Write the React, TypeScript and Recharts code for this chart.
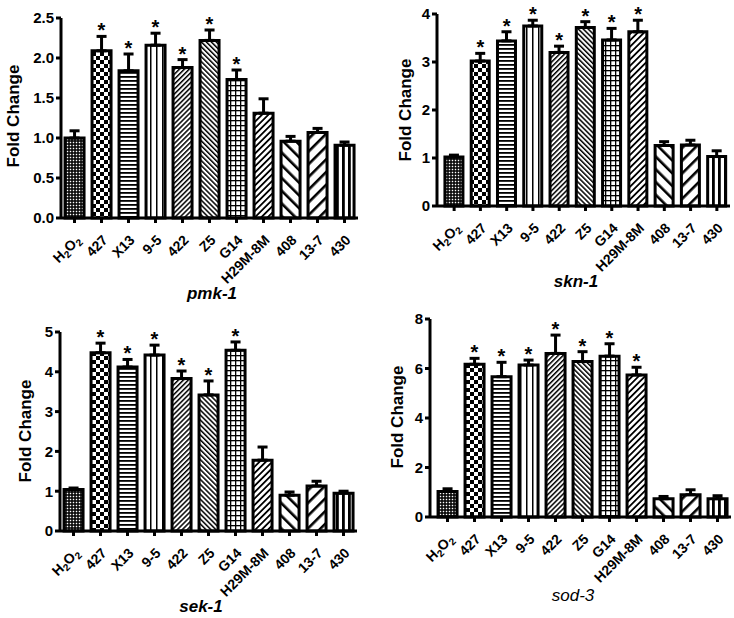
import React from "react";
import {
  ComposedChart,
  Bar,
  Cell,
  ErrorBar,
  Scatter,
  XAxis,
  YAxis,
} from "recharts";

const strains = ["H2O2", "427", "X13", "9-5", "422", "Z5", "G14", "H29M-8M", "408", "13-7", "430"];

const pmk1Mean = [1.0, 2.09, 1.84, 2.16, 1.88, 2.22, 1.73, 1.31, 0.96, 1.07, 0.91];
const pmk1Err = [0.09, 0.18, 0.21, 0.15, 0.1, 0.13, 0.12, 0.18, 0.06, 0.05, 0.04];
const pmk1Sig = ["427", "X13", "9-5", "422", "Z5", "G14"];
const pmk1Ticks = [0, 0.5, 1, 1.5, 2, 2.5];

const skn1Mean = [1.02, 3.02, 3.44, 3.75, 3.2, 3.72, 3.46, 3.63, 1.26, 1.27, 1.03];
const skn1Err = [0.04, 0.16, 0.19, 0.12, 0.13, 0.12, 0.24, 0.24, 0.08, 0.1, 0.12];
const skn1Sig = ["427", "X13", "9-5", "422", "Z5", "G14", "H29M-8M"];
const skn1Ticks = [0, 1, 2, 3, 4];

const sek1Mean = [1.04, 4.48, 4.12, 4.42, 3.83, 3.42, 4.54, 1.78, 0.9, 1.13, 0.95];
const sek1Err = [0.04, 0.24, 0.19, 0.25, 0.19, 0.35, 0.21, 0.33, 0.08, 0.12, 0.05];
const sek1Sig = ["427", "X13", "9-5", "422", "Z5", "G14"];
const sek1Ticks = [0, 1, 2, 3, 4, 5];

const sod3Mean = [1.03, 6.17, 5.67, 6.14, 6.61, 6.28, 6.5, 5.74, 0.74, 0.9, 0.74];
const sod3Err = [0.11, 0.24, 0.58, 0.2, 0.74, 0.4, 0.5, 0.31, 0.09, 0.2, 0.12];
const sod3Sig = ["427", "X13", "9-5", "422", "Z5", "G14", "H29M-8M"];
const sod3Ticks = [0, 2, 4, 6, 8];

const FONT = "'Liberation Sans', Arial, Helvetica, sans-serif";

function Patterns({ id }: { id: string }) {
  const lines = (name: string, w: number, lw: number, rot: number) => (
    <pattern
      id={`${id}-${name}`}
      width={w}
      height={w}
      patternUnits="userSpaceOnUse"
      patternTransform={`rotate(${rot})`}
    >
      <rect width={w} height={w} fill="#fff" />
      <rect width={lw} height={w} fill="#000" />
    </pattern>
  );
  return (
    <defs>
      <pattern id={`${id}-p0`} width={3} height={3} patternUnits="userSpaceOnUse">
        <rect width={3} height={3} fill="#000" />
        <rect x={0.75} y={0.75} width={1.5} height={1.5} fill="#fff" />
      </pattern>
      <pattern id={`${id}-p1`} width={8} height={8} patternUnits="userSpaceOnUse">
        <rect width={8} height={8} fill="#fff" />
        <rect width={4} height={4} fill="#000" />
        <rect x={4} y={4} width={4} height={4} fill="#000" />
      </pattern>
      <pattern id={`${id}-p2`} width={4} height={4} patternUnits="userSpaceOnUse">
        <rect width={4} height={4} fill="#fff" />
        <rect width={4} height={1.8} fill="#000" />
      </pattern>
      {lines("p3", 6, 1.5, 0)}
      {lines("p4", 3.5, 1.5, 45)}
      {lines("p5", 3.5, 1.5, -45)}
      <pattern id={`${id}-p6`} width={5} height={5} patternUnits="userSpaceOnUse">
        <rect width={5} height={5} fill="#fff" />
        <rect width={5} height={1.3} fill="#000" />
        <rect width={1.3} height={5} fill="#000" />
      </pattern>
      {lines("p7", 4.5, 1.8, 45)}
      {lines("p8", 9, 2.6, -45)}
      {lines("p9", 9, 2.6, 45)}
      {lines("p10", 6, 2.8, 0)}
    </defs>
  );
}

function StrainTick(props: any) {
  const { x, y, payload } = props;
  const v = payload.value;
  return (
    <g transform={`translate(${x + 7},${y + 16})`}>
      <text
        transform="rotate(-45)"
        textAnchor="end"
        fontSize={14}
        fontWeight="bold"
        fontFamily={FONT}
        fill="#000"
      >
        {v === "H2O2" ? (
          <>
            H<tspan fontSize={10} dy={3}>2</tspan>
            <tspan dy={-3}>O</tspan>
            <tspan fontSize={10} dy={3}>2</tspan>
          </>
        ) : (
          v
        )}
      </text>
    </g>
  );
}

function Star(props: any) {
  const { cx, cy, payload } = props;
  if (!payload || !payload.sig) return <g />;
  return (
    <text x={cx} y={cy + 1} textAnchor="middle" fontSize={20} fontWeight="bold" fontFamily={FONT} fill="#000">
      *
    </text>
  );
}

type PanelProps = {
  id: string;
  gene: string;
  mean: number[];
  err: number[];
  sig: string[];
  ticks: number[];
  decimals: number;
  left: number;
  top: number;
  width: number;
  height: number;
  margin: { top: number; right: number; left: number; bottom: number };
  yWidth: number;
  xHeight: number;
  padLeft: number;
  titleX: number;
  titleY: number;
  titleWeight: string;
  labelX: number;
  labelY: number;
};

function Panel(p: PanelProps) {
  const data = strains.map((s, i) => ({
    strain: s,
    mean: p.mean[i],
    err: [0, p.err[i]],
    top: p.mean[i] + p.err[i],
    sig: p.sig.includes(s),
  }));
  const axisStyle = { stroke: "#000", strokeWidth: 3 };
  return (
    <>
      <div style={{ position: "absolute", left: p.left, top: p.top }}>
        <ComposedChart width={p.width} height={p.height} data={data} margin={p.margin} barCategoryGap="15%">
          <Patterns id={p.id} />
          <XAxis
            dataKey="strain"
            interval={0}
            height={p.xHeight}
            padding={{ left: p.padLeft, right: 0 }}
            axisLine={axisStyle}
            tickLine={axisStyle}
            tickSize={5}
            tick={<StrainTick />}
          />
          <YAxis
            type="number"
            domain={[0, p.ticks[p.ticks.length - 1]]}
            ticks={p.ticks}
            interval={0}
            width={p.yWidth}
            axisLine={axisStyle}
            tickLine={axisStyle}
            tickSize={5}
            tickMargin={2}
            tickFormatter={(v: number) => v.toFixed(p.decimals)}
            tick={{ fontSize: 15, fontWeight: "bold", fill: "#000", fontFamily: FONT }}
          />
          <Bar dataKey="mean" isAnimationActive={false}>
            {data.map((d, i) => (
              <Cell key={d.strain} fill={`url(#${p.id}-p${i})`} stroke="#000" strokeWidth={3} />
            ))}
            <ErrorBar dataKey="err" width={5} stroke="#000" strokeWidth={3} direction="y" />
          </Bar>
          <Scatter dataKey="top" isAnimationActive={false} shape={<Star />} />
        </ComposedChart>
      </div>
      <div
        style={{
          position: "absolute",
          left: p.labelX,
          top: p.labelY,
          transform: "translate(-50%, -50%) rotate(-90deg)",
          whiteSpace: "nowrap",
          fontFamily: FONT,
          fontWeight: "bold",
          fontSize: 17,
          lineHeight: "17px",
        }}
      >
        Fold Change
      </div>
      <div
        style={{
          position: "absolute",
          left: p.titleX,
          top: p.titleY,
          transform: "translate(-50%, -50%)",
          whiteSpace: "nowrap",
          fontFamily: FONT,
          fontWeight: p.titleWeight as any,
          fontStyle: "italic",
          fontSize: 17,
          lineHeight: "17px",
        }}
      >
        {p.gene}
      </div>
    </>
  );
}

export default function App() {
  return (
    <div style={{ position: "absolute", left: 0, top: 0, width: 734, height: 618, background: "#fff", overflow: "hidden" }}>
      <Panel
        id="pmk"
        gene="pmk-1"
        mean={pmk1Mean}
        err={pmk1Err}
        sig={pmk1Sig}
        ticks={pmk1Ticks}
        decimals={1}
        left={0}
        top={0}
        width={370}
        height={300}
        margin={{ top: 18, right: 12, left: 0, bottom: 0 }}
        yWidth={61}
        xHeight={82}
        padLeft={0}
        titleX={212}
        titleY={293}
        titleWeight="bold"
        labelX={13}
        labelY={116}
      />
      <Panel
        id="skn"
        gene="skn-1"
        mean={skn1Mean}
        err={skn1Err}
        sig={skn1Sig}
        ticks={skn1Ticks}
        decimals={0}
        left={370}
        top={0}
        width={364}
        height={300}
        margin={{ top: 14, right: 4, left: 0, bottom: 0 }}
        yWidth={67}
        xHeight={94}
        padLeft={4}
        titleX={576}
        titleY={281}
        titleWeight="bold"
        labelX={405}
        labelY={110}
      />
      <Panel
        id="sek"
        gene="sek-1"
        mean={sek1Mean}
        err={sek1Err}
        sig={sek1Sig}
        ticks={sek1Ticks}
        decimals={0}
        left={0}
        top={300}
        width={370}
        height={318}
        margin={{ top: 32, right: 13, left: 0, bottom: 0 }}
        yWidth={60}
        xHeight={87}
        padLeft={0}
        titleX={201}
        titleY={606}
        titleWeight="bold"
        labelX={25}
        labelY={431}
      />
      <Panel
        id="sod"
        gene="sod-3"
        mean={sod3Mean}
        err={sod3Err}
        sig={sod3Sig}
        ticks={sod3Ticks}
        decimals={0}
        left={370}
        top={300}
        width={364}
        height={318}
        margin={{ top: 19, right: 3, left: 0, bottom: 0 }}
        yWidth={60}
        xHeight={101}
        padLeft={4}
        titleX={573}
        titleY={595}
        titleWeight="normal"
        labelX={397}
        labelY={417}
      />
    </div>
  );
}
